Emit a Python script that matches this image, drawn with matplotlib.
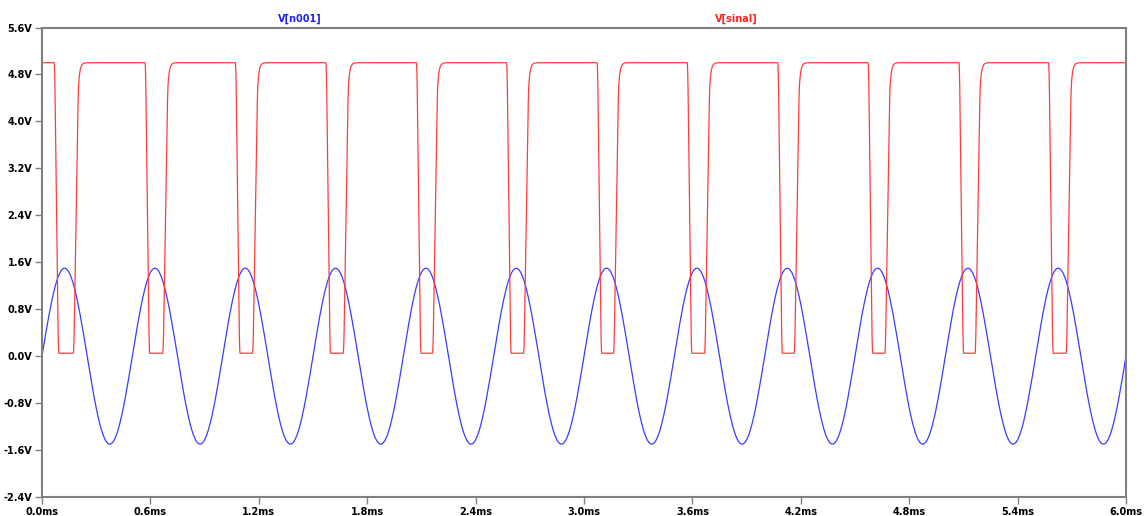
import numpy as np
import matplotlib
matplotlib.use("Agg")
import matplotlib.pyplot as plt

# V[n001]: sine source
sine_amp = 1.5        # V
sine_freq = 2.0       # kHz (period 0.5 ms)

# V[sinal]: comparator output, edge times (ms)
high_level = 5.0
low_level = 0.05
fall_times = [0.080, 0.583, 1.083, 1.584, 2.085, 2.584, 3.085, 3.584, 4.085, 4.585, 5.088, 5.584]
rise_times = [0.188, 0.683, 1.180, 1.682, 2.176, 2.680, 3.178, 3.682, 4.178, 4.680, 5.179, 5.683]

x_ticks = [0.0, 0.6, 1.2, 1.8, 2.4, 3.0, 3.6, 4.2, 4.8, 5.4, 6.0]
y_ticks = [-2.4, -1.6, -0.8, 0.0, 0.8, 1.6, 2.4, 3.2, 4.0, 4.8, 5.6]

# sine trace
t_sin = np.arange(0, 6.0 + 1e-9, 0.01)
v_sin = sine_amp * np.sin(2 * np.pi * sine_freq * t_sin)

# square trace built from the edges, with finite slew and rounded corners
dt = 0.0005
t_sq = np.arange(-0.02, 6.02 + 1e-9, dt)
v_sq = np.full_like(t_sq, high_level)
swing = high_level - low_level
for tf, tr in zip(fall_times, rise_times):
    down = np.clip((t_sq - (tf - 0.010)) / 0.020, 0, 1)
    r0 = tr - 0.012
    r1 = tr + 0.012
    up = np.clip((t_sq - r0) / (r1 - r0), 0, 1) * 0.9
    tail = t_sq > r1
    up[tail] = 0.9 + 0.1 * (1 - np.exp(-(t_sq[tail] - r1) / 0.008))
    level = high_level - swing * down * (1 - up)
    v_sq = np.minimum(v_sq, level)
k = 12
v_sq = np.convolve(np.pad(v_sq, k, mode="edge"), np.ones(k) / k, mode="same")[k:-k]
keep = (t_sq >= 0) & (t_sq <= 6.0)
t_sq, v_sq = t_sq[keep], v_sq[keep]

fig = plt.figure(figsize=(11.46, 5.16), dpi=100, facecolor="white")
ax = fig.add_axes([42 / 1146, 1 - 497 / 516, (1126 - 42) / 1146, (497 - 27.5) / 516])

ax.plot(t_sin, v_sin, color="#3c3cff", lw=0.9)
ax.plot(t_sq, v_sq, color="#ff3c3c", lw=0.9)

ax.set_xlim(0, 6.0)
ax.set_ylim(-2.4, 5.6)
ax.set_xticks(x_ticks)
ax.set_xticklabels([f"{v:.1f}ms" for v in x_ticks])
ax.set_yticks(y_ticks)
ax.set_yticklabels([f"{v:.1f}V" for v in y_ticks])
ax.tick_params(axis="both", direction="out", length=5, width=1, color="#808080",
               labelsize=7, pad=2)
for lab in ax.get_xticklabels() + ax.get_yticklabels():
    lab.set_fontweight("bold")
for s in ax.spines.values():
    s.set_color("#808080")
    s.set_linewidth(1.5)

fig.text(300 / 1146, 1 - 19 / 516, "V[n001]", color="#2020ff", fontsize=7,
         fontweight="bold", ha="center", va="center")
fig.text(736 / 1146, 1 - 19 / 516, "V[sinal]", color="#ff2020", fontsize=7,
         fontweight="bold", ha="center", va="center")

fig.savefig("out.png", dpi=100, facecolor="white")
